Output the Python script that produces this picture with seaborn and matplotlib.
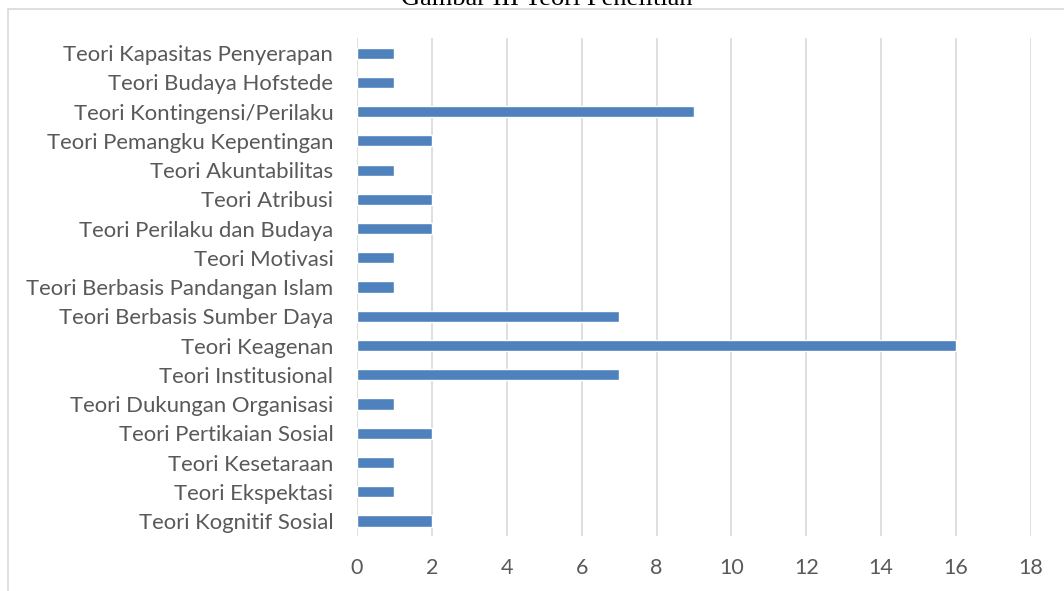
import matplotlib
matplotlib.use("Agg")
import matplotlib.pyplot as plt
import seaborn as sns
import pandas as pd
from matplotlib.patches import Rectangle

categories = [
    "Teori Kapasitas Penyerapan",
    "Teori Budaya Hofstede",
    "Teori Kontingensi/Perilaku",
    "Teori Pemangku Kepentingan",
    "Teori Akuntabilitas",
    "Teori Atribusi",
    "Teori Perilaku dan Budaya",
    "Teori Motivasi",
    "Teori Berbasis Pandangan Islam",
    "Teori Berbasis Sumber Daya",
    "Teori Keagenan",
    "Teori Institusional",
    "Teori Dukungan Organisasi",
    "Teori Pertikaian Sosial",
    "Teori Kesetaraan",
    "Teori Ekspektasi",
    "Teori Kognitif Sosial",
]
values = [1, 1, 9, 2, 1, 2, 2, 1, 1, 7, 16, 7, 1, 2, 1, 1, 2]
x_ticks = [0, 2, 4, 6, 8, 10, 12, 14, 16, 18]
title = "Gambar III Teori Penelitian"

df = pd.DataFrame({"teori": categories, "jumlah": values})

sns.set_theme(style="white")
plt.rcParams["font.family"] = ["Lato", "DejaVu Sans"]

fig = plt.figure(figsize=(10.64, 5.91), dpi=100)
ax = fig.add_axes([0.3355, 0.0937, 0.969 - 0.3355, 0.9349 - 0.0937])

sns.barplot(data=df, y="teori", x="jumlah", orient="h", color="#4F81BD",
            saturation=1, width=0.38, ax=ax, order=categories)

ax.set_xlim(0, 18)
ax.set_xticks(x_ticks)
ax.set_xticklabels([str(t) for t in x_ticks])
ax.set_ylim(len(categories) - 0.5, -0.5)
ax.xaxis.grid(True, color="#d9d9d9", linewidth=1.2)
ax.set_axisbelow(True)
for s in ax.spines.values():
    s.set_visible(False)
ax.set_xlabel("")
ax.set_ylabel("")
ax.tick_params(axis="both", length=0, labelsize=15.5, colors="#595959")
ax.tick_params(axis="y", labelsize=15.9, pad=17)
ax.tick_params(axis="x", pad=16)

# outer border (chart area frame)
fig.patches.append(Rectangle((8 / 1064, -0.1), 1.2, 1 - 9 / 591 + 0.1,
                             transform=fig.transFigure, fill=False,
                             edgecolor="#d9d9d9", linewidth=1.2))

fig.text(547 / 1064, 1 - 5 / 591, title, ha="center", va="baseline",
         fontsize=19, family=["Liberation Serif", "DejaVu Serif"], color="black")

fig.savefig("out.png", dpi=100)
